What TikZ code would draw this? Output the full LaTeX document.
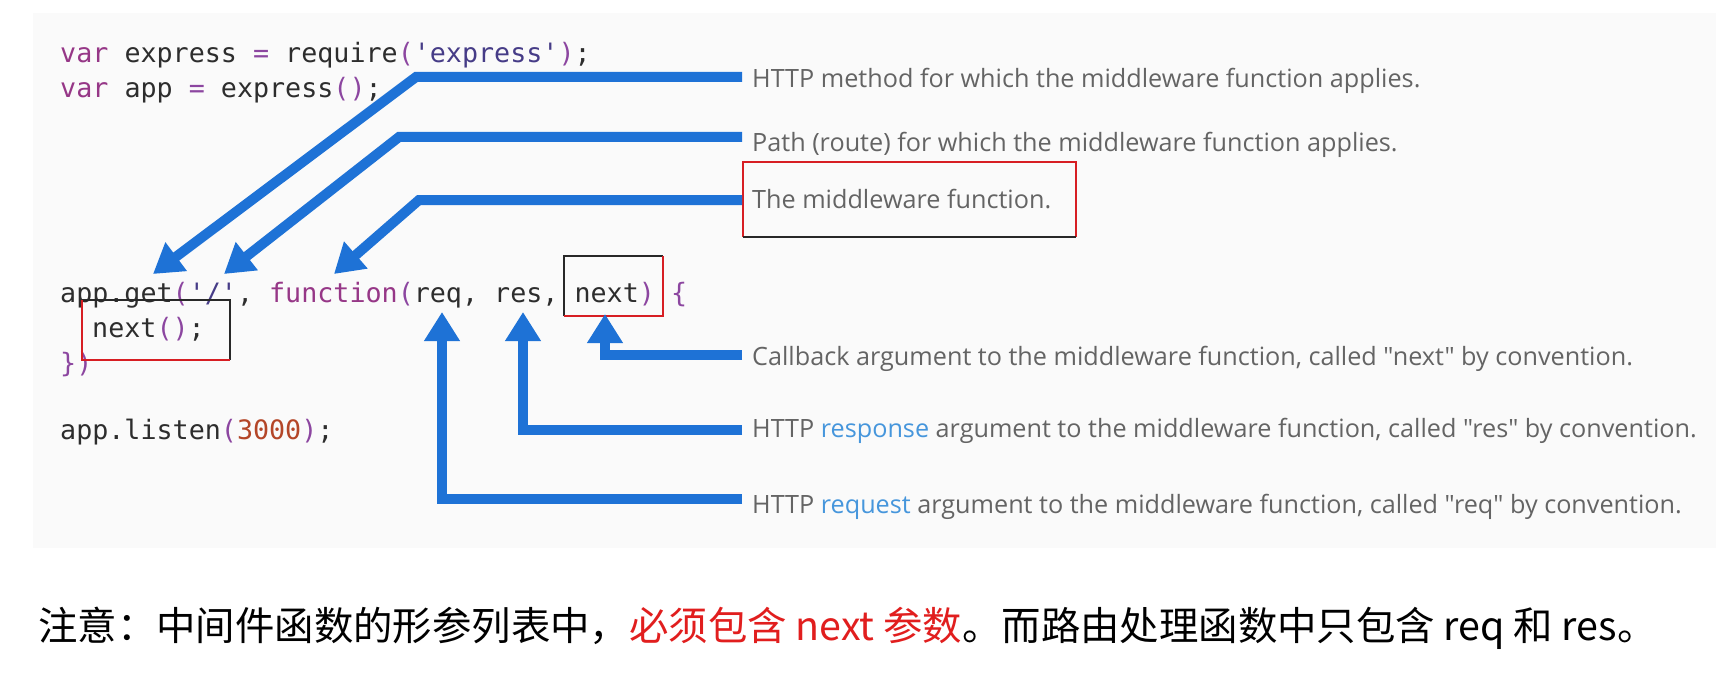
\documentclass[tikz,border=0pt]{standalone}
\usepackage{fontspec}
\setmainfont{Open Sans}[Ligatures=TeXOff]
\setmonofont{DejaVu Sans Mono}
\newfontfamily\cjkfont{Noto Sans CJK SC}
\usetikzlibrary{arrows.meta}
\definecolor{panel}{RGB}{250,250,250}
\definecolor{blueA}{RGB}{30,114,214}
\definecolor{plainC}{RGB}{45,45,45}
\definecolor{kwCol}{RGB}{150,55,135}
\definecolor{puCol}{RGB}{140,70,160}
\definecolor{stCol}{RGB}{70,60,135}
\definecolor{nuCol}{RGB}{180,70,40}
\definecolor{annGray}{RGB}{100,100,100}
\definecolor{linkBlue}{RGB}{70,150,220}
\definecolor{penRed}{RGB}{215,30,35}
\definecolor{penBlack}{RGB}{40,40,40}
\definecolor{noteRed}{RGB}{225,30,30}
\newcommand\kwC[1]{\textcolor{kwCol}{#1}}
\newcommand\puC[1]{\textcolor{puCol}{#1}}
\newcommand\stC[1]{\textcolor{stCol}{#1}}
\newcommand\nuC[1]{\textcolor{nuCol}{#1}}
\newcommand\lkC[1]{\textcolor{linkBlue}{#1}}
\tikzset{
  codeline/.style={anchor=base west, inner sep=0pt, text=plainC,
    font=\fontsize{26.7}{32}\selectfont\ttfamily},
  annot/.style={anchor=base west, inner sep=0pt, text=annGray,
    font=\fontsize{25.2}{30}\selectfont},
  note/.style={anchor=base west, inner sep=0pt, text=black,
    font=\fontsize{39.4}{46}\selectfont\cjkfont},
  callout/.style={draw=blueA, line width=10pt, line join=miter,
    -{Triangle[width=34pt,length=29pt]}},
  penline/.style={line width=1.6pt}
}
\begin{document}
\begin{tikzpicture}[x=1pt,y=-1pt]
\useasboundingbox (0,0) rectangle (1716,690);
\fill[white] (0,0) rectangle (1716,690);
\fill[panel] (33,13) rectangle (1716,548);

% code
\node[codeline] (c1) at (60,63) {\kwC{var} express \puC{=} require\puC{(}\stC{'express'}\puC{)};};
\node[codeline] (c2) at (60,98) {\kwC{var} app \puC{=} express\puC{()};};
\node[codeline] (c3) at (60,302) {app.get\puC{(}\stC{'/'}, \kwC{function}\puC{(}req, res, next\puC{)} \puC{\{}};
\node[codeline] (c4) at (92,337) {next\puC{()};};
\node[codeline] (c5) at (60,372) {\puC{\})}};
\node[codeline] (c6) at (60,439) {app.listen\puC{(}\nuC{3000}\puC{)};};

% annotations
\node[annot] (aMethod) at (752,88) {HTTP method for which the middleware function applies.};
\node[annot] (aPath) at (752,152) {Path (route) for which the middleware function applies.};
\node[annot] (aFunc) at (752,208) {The middleware function.};
\node[annot] (aNext) at (752,365) {Callback argument to the middleware function, called "next" by convention.};
\node[annot] (aRes) at (752,437) {HTTP \lkC{response} argument to the middleware function, called "res" by convention.};
\node[annot] (aReq) at (752,513) {HTTP \lkC{request} argument to the middleware function, called "req" by convention.};

% pen boxes
\draw[penline, penBlack] (564,316) -- (564,256) -- (663,256);
\draw[penline, penRed] (663,256) -- (663,316) -- (564,316);
\draw[penline, penBlack] (82,300) -- (230,300) -- (230,360);
\draw[penline, penRed] (230,360) -- (82,360) -- (82,300);
\draw[penline, penRed] (743,237) -- (743,162) -- (1076,162) -- (1076,237);
\draw[penline, penBlack] (743,237) -- (1076,237);

% callout anchors
\coordinate (sMethod) at (742,77);
\coordinate (kMethod) at (416,77);
\coordinate (tGet) at (153,274);
\coordinate (sPath) at (742,137);
\coordinate (kPath) at (399,137);
\coordinate (tSlash) at (224,274);
\coordinate (sFunc) at (742,200);
\coordinate (kFunc) at (419,200);
\coordinate (tFunc) at (334,274);
\coordinate (sNext) at (742,355);
\coordinate (tNext) at (605,314);
\coordinate (sRes) at (742,430);
\coordinate (tRes) at (523,312);
\coordinate (sReq) at (742,499);
\coordinate (tReq) at (442,312);

\draw[callout] (sMethod) -- (kMethod) -- (tGet);
\draw[callout] (sPath) -- (kPath) -- (tSlash);
\draw[callout] (sFunc) -- (kFunc) -- (tFunc);
\draw[callout] (sNext) -| (tNext);
\draw[callout] (sRes) -| (tRes);
\draw[callout] (sReq) -| (tReq);

% note
\node[note] (noteline) at (38,640) {注意：中间件函数的形参列表中，\textcolor{noteRed}{必须包含 next 参数}。而路由处理函数中只包含 req 和 res。};
\end{tikzpicture}
\end{document}
